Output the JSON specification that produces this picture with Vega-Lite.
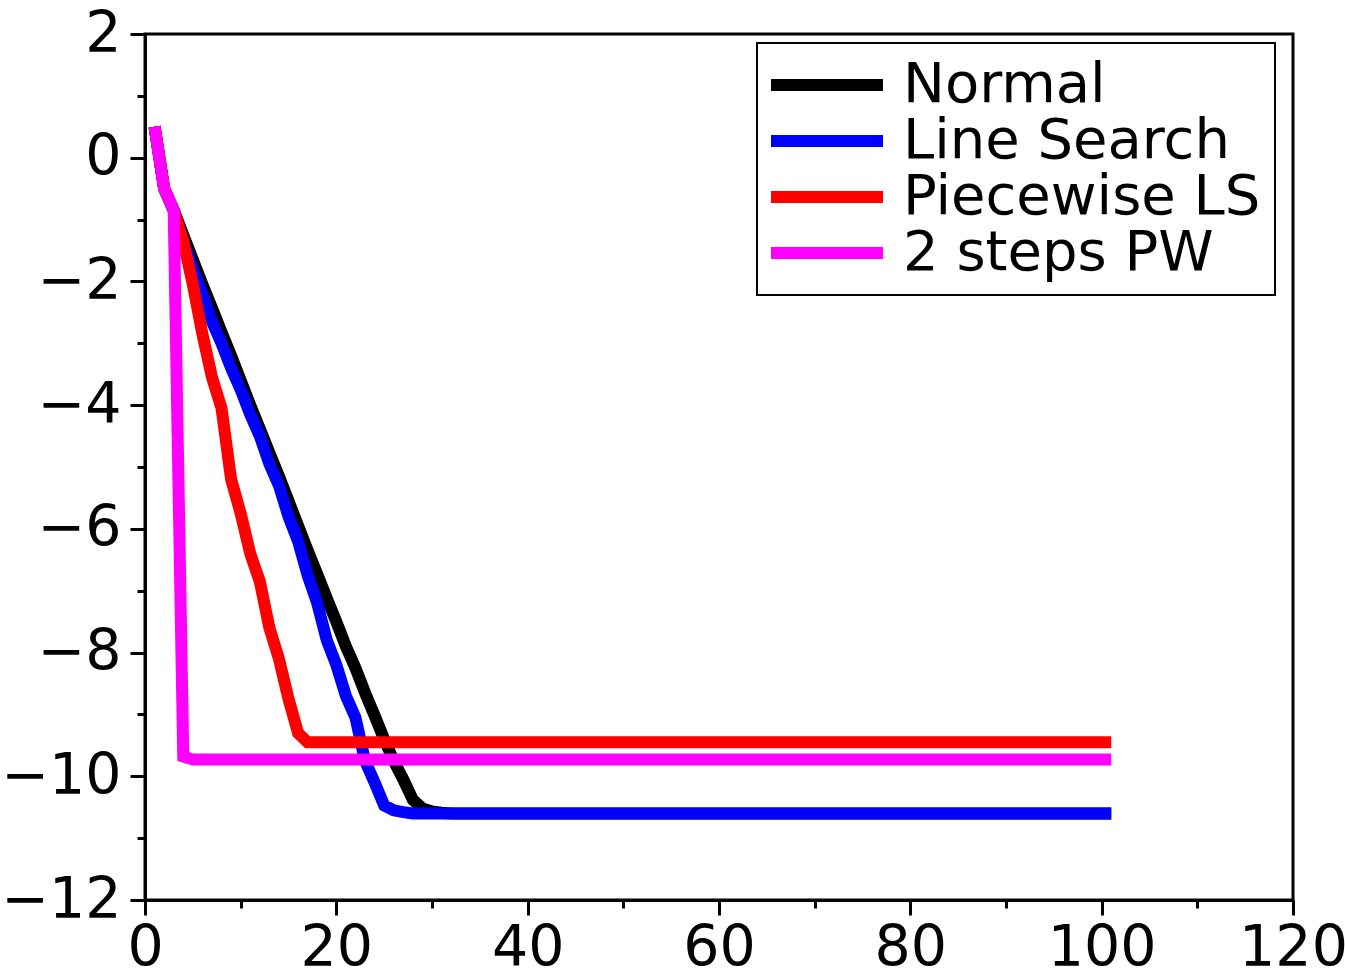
{
  "$schema": "https://vega.github.io/schema/vega-lite/v6.json",
  "width": 1148,
  "height": 866,
  "autosize": {"type": "none"},
  "padding": {"left": 145, "top": 34, "right": 52, "bottom": 73},
  "background": "white",
  "config": {
    "view": {"stroke": "black", "strokeWidth": 3},
    "font": "DejaVu Sans",
    "legend": {"strokeWidth": 2}
  },
  "data": {"values": [
    {"s":"Normal","x":1,"y":0.5},{"s":"Normal","x":2,"y":-0.5},{"s":"Normal","x":3,"y":-0.85},{"s":"Normal","x":4,"y":-1.25},{"s":"Normal","x":5,"y":-1.65},{"s":"Normal","x":6,"y":-2.05},{"s":"Normal","x":7,"y":-2.43},{"s":"Normal","x":8,"y":-2.82},{"s":"Normal","x":9,"y":-3.2},{"s":"Normal","x":10,"y":-3.6},
    {"s":"Normal","x":11,"y":-4.0},{"s":"Normal","x":12,"y":-4.38},{"s":"Normal","x":13,"y":-4.77},{"s":"Normal","x":14,"y":-5.15},{"s":"Normal","x":15,"y":-5.55},{"s":"Normal","x":16,"y":-5.95},{"s":"Normal","x":17,"y":-6.35},{"s":"Normal","x":18,"y":-6.73},{"s":"Normal","x":19,"y":-7.12},{"s":"Normal","x":20,"y":-7.5},
    {"s":"Normal","x":21,"y":-7.9},{"s":"Normal","x":22,"y":-8.25},{"s":"Normal","x":23,"y":-8.65},{"s":"Normal","x":24,"y":-9.02},{"s":"Normal","x":25,"y":-9.4},{"s":"Normal","x":26,"y":-9.75},{"s":"Normal","x":27,"y":-10.05},{"s":"Normal","x":28,"y":-10.38},{"s":"Normal","x":29,"y":-10.52},{"s":"Normal","x":30,"y":-10.57},
    {"s":"Normal","x":31,"y":-10.59},{"s":"Normal","x":32,"y":-10.6},{"s":"Normal","x":33,"y":-10.6},{"s":"Normal","x":34,"y":-10.6},{"s":"Normal","x":35,"y":-10.6},{"s":"Normal","x":36,"y":-10.6},{"s":"Normal","x":37,"y":-10.6},{"s":"Normal","x":38,"y":-10.6},{"s":"Normal","x":39,"y":-10.6},{"s":"Normal","x":40,"y":-10.6},
    {"s":"Normal","x":41,"y":-10.6},{"s":"Normal","x":42,"y":-10.6},{"s":"Normal","x":43,"y":-10.6},{"s":"Normal","x":44,"y":-10.6},{"s":"Normal","x":45,"y":-10.6},{"s":"Normal","x":46,"y":-10.6},{"s":"Normal","x":47,"y":-10.6},{"s":"Normal","x":48,"y":-10.6},{"s":"Normal","x":49,"y":-10.6},{"s":"Normal","x":50,"y":-10.6},
    {"s":"Normal","x":51,"y":-10.6},{"s":"Normal","x":52,"y":-10.6},{"s":"Normal","x":53,"y":-10.6},{"s":"Normal","x":54,"y":-10.6},{"s":"Normal","x":55,"y":-10.6},{"s":"Normal","x":56,"y":-10.6},{"s":"Normal","x":57,"y":-10.6},{"s":"Normal","x":58,"y":-10.6},{"s":"Normal","x":59,"y":-10.6},{"s":"Normal","x":60,"y":-10.6},
    {"s":"Normal","x":61,"y":-10.6},{"s":"Normal","x":62,"y":-10.6},{"s":"Normal","x":63,"y":-10.6},{"s":"Normal","x":64,"y":-10.6},{"s":"Normal","x":65,"y":-10.6},{"s":"Normal","x":66,"y":-10.6},{"s":"Normal","x":67,"y":-10.6},{"s":"Normal","x":68,"y":-10.6},{"s":"Normal","x":69,"y":-10.6},{"s":"Normal","x":70,"y":-10.6},
    {"s":"Normal","x":71,"y":-10.6},{"s":"Normal","x":72,"y":-10.6},{"s":"Normal","x":73,"y":-10.6},{"s":"Normal","x":74,"y":-10.6},{"s":"Normal","x":75,"y":-10.6},{"s":"Normal","x":76,"y":-10.6},{"s":"Normal","x":77,"y":-10.6},{"s":"Normal","x":78,"y":-10.6},{"s":"Normal","x":79,"y":-10.6},{"s":"Normal","x":80,"y":-10.6},
    {"s":"Normal","x":81,"y":-10.6},{"s":"Normal","x":82,"y":-10.6},{"s":"Normal","x":83,"y":-10.6},{"s":"Normal","x":84,"y":-10.6},{"s":"Normal","x":85,"y":-10.6},{"s":"Normal","x":86,"y":-10.6},{"s":"Normal","x":87,"y":-10.6},{"s":"Normal","x":88,"y":-10.6},{"s":"Normal","x":89,"y":-10.6},{"s":"Normal","x":90,"y":-10.6},
    {"s":"Normal","x":91,"y":-10.6},{"s":"Normal","x":92,"y":-10.6},{"s":"Normal","x":93,"y":-10.6},{"s":"Normal","x":94,"y":-10.6},{"s":"Normal","x":95,"y":-10.6},{"s":"Normal","x":96,"y":-10.6},{"s":"Normal","x":97,"y":-10.6},{"s":"Normal","x":98,"y":-10.6},{"s":"Normal","x":99,"y":-10.6},{"s":"Normal","x":100,"y":-10.6},{"s":"Normal","x":101,"y":-10.6},

    {"s":"Line Search","x":1,"y":0.5},{"s":"Line Search","x":2,"y":-0.5},{"s":"Line Search","x":3,"y":-0.85},{"s":"Line Search","x":4,"y":-1.35},{"s":"Line Search","x":5,"y":-1.8},{"s":"Line Search","x":6,"y":-2.2},{"s":"Line Search","x":7,"y":-2.65},{"s":"Line Search","x":8,"y":-3.0},{"s":"Line Search","x":9,"y":-3.4},{"s":"Line Search","x":10,"y":-3.75},
    {"s":"Line Search","x":11,"y":-4.15},{"s":"Line Search","x":12,"y":-4.5},{"s":"Line Search","x":13,"y":-4.95},{"s":"Line Search","x":14,"y":-5.3},{"s":"Line Search","x":15,"y":-5.8},{"s":"Line Search","x":16,"y":-6.2},{"s":"Line Search","x":17,"y":-6.75},{"s":"Line Search","x":18,"y":-7.2},{"s":"Line Search","x":19,"y":-7.8},{"s":"Line Search","x":20,"y":-8.2},
    {"s":"Line Search","x":21,"y":-8.7},{"s":"Line Search","x":22,"y":-9.05},{"s":"Line Search","x":23,"y":-9.75},{"s":"Line Search","x":24,"y":-10.1},{"s":"Line Search","x":25,"y":-10.47},{"s":"Line Search","x":26,"y":-10.55},{"s":"Line Search","x":27,"y":-10.58},{"s":"Line Search","x":28,"y":-10.6},{"s":"Line Search","x":29,"y":-10.6},{"s":"Line Search","x":30,"y":-10.6},
    {"s":"Line Search","x":31,"y":-10.6},{"s":"Line Search","x":32,"y":-10.6},{"s":"Line Search","x":33,"y":-10.6},{"s":"Line Search","x":34,"y":-10.6},{"s":"Line Search","x":35,"y":-10.6},{"s":"Line Search","x":36,"y":-10.6},{"s":"Line Search","x":37,"y":-10.6},{"s":"Line Search","x":38,"y":-10.6},{"s":"Line Search","x":39,"y":-10.6},{"s":"Line Search","x":40,"y":-10.6},
    {"s":"Line Search","x":41,"y":-10.6},{"s":"Line Search","x":42,"y":-10.6},{"s":"Line Search","x":43,"y":-10.6},{"s":"Line Search","x":44,"y":-10.6},{"s":"Line Search","x":45,"y":-10.6},{"s":"Line Search","x":46,"y":-10.6},{"s":"Line Search","x":47,"y":-10.6},{"s":"Line Search","x":48,"y":-10.6},{"s":"Line Search","x":49,"y":-10.6},{"s":"Line Search","x":50,"y":-10.6},
    {"s":"Line Search","x":51,"y":-10.6},{"s":"Line Search","x":52,"y":-10.6},{"s":"Line Search","x":53,"y":-10.6},{"s":"Line Search","x":54,"y":-10.6},{"s":"Line Search","x":55,"y":-10.6},{"s":"Line Search","x":56,"y":-10.6},{"s":"Line Search","x":57,"y":-10.6},{"s":"Line Search","x":58,"y":-10.6},{"s":"Line Search","x":59,"y":-10.6},{"s":"Line Search","x":60,"y":-10.6},
    {"s":"Line Search","x":61,"y":-10.6},{"s":"Line Search","x":62,"y":-10.6},{"s":"Line Search","x":63,"y":-10.6},{"s":"Line Search","x":64,"y":-10.6},{"s":"Line Search","x":65,"y":-10.6},{"s":"Line Search","x":66,"y":-10.6},{"s":"Line Search","x":67,"y":-10.6},{"s":"Line Search","x":68,"y":-10.6},{"s":"Line Search","x":69,"y":-10.6},{"s":"Line Search","x":70,"y":-10.6},
    {"s":"Line Search","x":71,"y":-10.6},{"s":"Line Search","x":72,"y":-10.6},{"s":"Line Search","x":73,"y":-10.6},{"s":"Line Search","x":74,"y":-10.6},{"s":"Line Search","x":75,"y":-10.6},{"s":"Line Search","x":76,"y":-10.6},{"s":"Line Search","x":77,"y":-10.6},{"s":"Line Search","x":78,"y":-10.6},{"s":"Line Search","x":79,"y":-10.6},{"s":"Line Search","x":80,"y":-10.6},
    {"s":"Line Search","x":81,"y":-10.6},{"s":"Line Search","x":82,"y":-10.6},{"s":"Line Search","x":83,"y":-10.6},{"s":"Line Search","x":84,"y":-10.6},{"s":"Line Search","x":85,"y":-10.6},{"s":"Line Search","x":86,"y":-10.6},{"s":"Line Search","x":87,"y":-10.6},{"s":"Line Search","x":88,"y":-10.6},{"s":"Line Search","x":89,"y":-10.6},{"s":"Line Search","x":90,"y":-10.6},
    {"s":"Line Search","x":91,"y":-10.6},{"s":"Line Search","x":92,"y":-10.6},{"s":"Line Search","x":93,"y":-10.6},{"s":"Line Search","x":94,"y":-10.6},{"s":"Line Search","x":95,"y":-10.6},{"s":"Line Search","x":96,"y":-10.6},{"s":"Line Search","x":97,"y":-10.6},{"s":"Line Search","x":98,"y":-10.6},{"s":"Line Search","x":99,"y":-10.6},{"s":"Line Search","x":100,"y":-10.6},{"s":"Line Search","x":101,"y":-10.6},

    {"s":"Piecewise LS","x":1,"y":0.5},{"s":"Piecewise LS","x":2,"y":-0.5},{"s":"Piecewise LS","x":3,"y":-0.85},{"s":"Piecewise LS","x":4,"y":-1.35},{"s":"Piecewise LS","x":5,"y":-2.05},{"s":"Piecewise LS","x":6,"y":-2.85},{"s":"Piecewise LS","x":7,"y":-3.55},{"s":"Piecewise LS","x":8,"y":-4.05},{"s":"Piecewise LS","x":9,"y":-5.2},{"s":"Piecewise LS","x":10,"y":-5.75},
    {"s":"Piecewise LS","x":11,"y":-6.4},{"s":"Piecewise LS","x":12,"y":-6.85},{"s":"Piecewise LS","x":13,"y":-7.6},{"s":"Piecewise LS","x":14,"y":-8.1},{"s":"Piecewise LS","x":15,"y":-8.75},{"s":"Piecewise LS","x":16,"y":-9.3},{"s":"Piecewise LS","x":17,"y":-9.45},{"s":"Piecewise LS","x":18,"y":-9.45},{"s":"Piecewise LS","x":19,"y":-9.45},{"s":"Piecewise LS","x":20,"y":-9.45},
    {"s":"Piecewise LS","x":21,"y":-9.45},{"s":"Piecewise LS","x":22,"y":-9.45},{"s":"Piecewise LS","x":23,"y":-9.45},{"s":"Piecewise LS","x":24,"y":-9.45},{"s":"Piecewise LS","x":25,"y":-9.45},{"s":"Piecewise LS","x":26,"y":-9.45},{"s":"Piecewise LS","x":27,"y":-9.45},{"s":"Piecewise LS","x":28,"y":-9.45},{"s":"Piecewise LS","x":29,"y":-9.45},{"s":"Piecewise LS","x":30,"y":-9.45},
    {"s":"Piecewise LS","x":31,"y":-9.45},{"s":"Piecewise LS","x":32,"y":-9.45},{"s":"Piecewise LS","x":33,"y":-9.45},{"s":"Piecewise LS","x":34,"y":-9.45},{"s":"Piecewise LS","x":35,"y":-9.45},{"s":"Piecewise LS","x":36,"y":-9.45},{"s":"Piecewise LS","x":37,"y":-9.45},{"s":"Piecewise LS","x":38,"y":-9.45},{"s":"Piecewise LS","x":39,"y":-9.45},{"s":"Piecewise LS","x":40,"y":-9.45},
    {"s":"Piecewise LS","x":41,"y":-9.45},{"s":"Piecewise LS","x":42,"y":-9.45},{"s":"Piecewise LS","x":43,"y":-9.45},{"s":"Piecewise LS","x":44,"y":-9.45},{"s":"Piecewise LS","x":45,"y":-9.45},{"s":"Piecewise LS","x":46,"y":-9.45},{"s":"Piecewise LS","x":47,"y":-9.45},{"s":"Piecewise LS","x":48,"y":-9.45},{"s":"Piecewise LS","x":49,"y":-9.45},{"s":"Piecewise LS","x":50,"y":-9.45},
    {"s":"Piecewise LS","x":51,"y":-9.45},{"s":"Piecewise LS","x":52,"y":-9.45},{"s":"Piecewise LS","x":53,"y":-9.45},{"s":"Piecewise LS","x":54,"y":-9.45},{"s":"Piecewise LS","x":55,"y":-9.45},{"s":"Piecewise LS","x":56,"y":-9.45},{"s":"Piecewise LS","x":57,"y":-9.45},{"s":"Piecewise LS","x":58,"y":-9.45},{"s":"Piecewise LS","x":59,"y":-9.45},{"s":"Piecewise LS","x":60,"y":-9.45},
    {"s":"Piecewise LS","x":61,"y":-9.45},{"s":"Piecewise LS","x":62,"y":-9.45},{"s":"Piecewise LS","x":63,"y":-9.45},{"s":"Piecewise LS","x":64,"y":-9.45},{"s":"Piecewise LS","x":65,"y":-9.45},{"s":"Piecewise LS","x":66,"y":-9.45},{"s":"Piecewise LS","x":67,"y":-9.45},{"s":"Piecewise LS","x":68,"y":-9.45},{"s":"Piecewise LS","x":69,"y":-9.45},{"s":"Piecewise LS","x":70,"y":-9.45},
    {"s":"Piecewise LS","x":71,"y":-9.45},{"s":"Piecewise LS","x":72,"y":-9.45},{"s":"Piecewise LS","x":73,"y":-9.45},{"s":"Piecewise LS","x":74,"y":-9.45},{"s":"Piecewise LS","x":75,"y":-9.45},{"s":"Piecewise LS","x":76,"y":-9.45},{"s":"Piecewise LS","x":77,"y":-9.45},{"s":"Piecewise LS","x":78,"y":-9.45},{"s":"Piecewise LS","x":79,"y":-9.45},{"s":"Piecewise LS","x":80,"y":-9.45},
    {"s":"Piecewise LS","x":81,"y":-9.45},{"s":"Piecewise LS","x":82,"y":-9.45},{"s":"Piecewise LS","x":83,"y":-9.45},{"s":"Piecewise LS","x":84,"y":-9.45},{"s":"Piecewise LS","x":85,"y":-9.45},{"s":"Piecewise LS","x":86,"y":-9.45},{"s":"Piecewise LS","x":87,"y":-9.45},{"s":"Piecewise LS","x":88,"y":-9.45},{"s":"Piecewise LS","x":89,"y":-9.45},{"s":"Piecewise LS","x":90,"y":-9.45},
    {"s":"Piecewise LS","x":91,"y":-9.45},{"s":"Piecewise LS","x":92,"y":-9.45},{"s":"Piecewise LS","x":93,"y":-9.45},{"s":"Piecewise LS","x":94,"y":-9.45},{"s":"Piecewise LS","x":95,"y":-9.45},{"s":"Piecewise LS","x":96,"y":-9.45},{"s":"Piecewise LS","x":97,"y":-9.45},{"s":"Piecewise LS","x":98,"y":-9.45},{"s":"Piecewise LS","x":99,"y":-9.45},{"s":"Piecewise LS","x":100,"y":-9.45},{"s":"Piecewise LS","x":101,"y":-9.45},

    {"s":"2 steps PW","x":1,"y":0.5},{"s":"2 steps PW","x":2,"y":-0.5},{"s":"2 steps PW","x":3,"y":-0.85},{"s":"2 steps PW","x":4,"y":-9.68},{"s":"2 steps PW","x":5,"y":-9.73},{"s":"2 steps PW","x":6,"y":-9.73},{"s":"2 steps PW","x":7,"y":-9.73},{"s":"2 steps PW","x":8,"y":-9.73},{"s":"2 steps PW","x":9,"y":-9.73},{"s":"2 steps PW","x":10,"y":-9.73},
    {"s":"2 steps PW","x":11,"y":-9.73},{"s":"2 steps PW","x":12,"y":-9.73},{"s":"2 steps PW","x":13,"y":-9.73},{"s":"2 steps PW","x":14,"y":-9.73},{"s":"2 steps PW","x":15,"y":-9.73},{"s":"2 steps PW","x":16,"y":-9.73},{"s":"2 steps PW","x":17,"y":-9.73},{"s":"2 steps PW","x":18,"y":-9.73},{"s":"2 steps PW","x":19,"y":-9.73},{"s":"2 steps PW","x":20,"y":-9.73},
    {"s":"2 steps PW","x":21,"y":-9.73},{"s":"2 steps PW","x":22,"y":-9.73},{"s":"2 steps PW","x":23,"y":-9.73},{"s":"2 steps PW","x":24,"y":-9.73},{"s":"2 steps PW","x":25,"y":-9.73},{"s":"2 steps PW","x":26,"y":-9.73},{"s":"2 steps PW","x":27,"y":-9.73},{"s":"2 steps PW","x":28,"y":-9.73},{"s":"2 steps PW","x":29,"y":-9.73},{"s":"2 steps PW","x":30,"y":-9.73},
    {"s":"2 steps PW","x":31,"y":-9.73},{"s":"2 steps PW","x":32,"y":-9.73},{"s":"2 steps PW","x":33,"y":-9.73},{"s":"2 steps PW","x":34,"y":-9.73},{"s":"2 steps PW","x":35,"y":-9.73},{"s":"2 steps PW","x":36,"y":-9.73},{"s":"2 steps PW","x":37,"y":-9.73},{"s":"2 steps PW","x":38,"y":-9.73},{"s":"2 steps PW","x":39,"y":-9.73},{"s":"2 steps PW","x":40,"y":-9.73},
    {"s":"2 steps PW","x":41,"y":-9.73},{"s":"2 steps PW","x":42,"y":-9.73},{"s":"2 steps PW","x":43,"y":-9.73},{"s":"2 steps PW","x":44,"y":-9.73},{"s":"2 steps PW","x":45,"y":-9.73},{"s":"2 steps PW","x":46,"y":-9.73},{"s":"2 steps PW","x":47,"y":-9.73},{"s":"2 steps PW","x":48,"y":-9.73},{"s":"2 steps PW","x":49,"y":-9.73},{"s":"2 steps PW","x":50,"y":-9.73},
    {"s":"2 steps PW","x":51,"y":-9.73},{"s":"2 steps PW","x":52,"y":-9.73},{"s":"2 steps PW","x":53,"y":-9.73},{"s":"2 steps PW","x":54,"y":-9.73},{"s":"2 steps PW","x":55,"y":-9.73},{"s":"2 steps PW","x":56,"y":-9.73},{"s":"2 steps PW","x":57,"y":-9.73},{"s":"2 steps PW","x":58,"y":-9.73},{"s":"2 steps PW","x":59,"y":-9.73},{"s":"2 steps PW","x":60,"y":-9.73},
    {"s":"2 steps PW","x":61,"y":-9.73},{"s":"2 steps PW","x":62,"y":-9.73},{"s":"2 steps PW","x":63,"y":-9.73},{"s":"2 steps PW","x":64,"y":-9.73},{"s":"2 steps PW","x":65,"y":-9.73},{"s":"2 steps PW","x":66,"y":-9.73},{"s":"2 steps PW","x":67,"y":-9.73},{"s":"2 steps PW","x":68,"y":-9.73},{"s":"2 steps PW","x":69,"y":-9.73},{"s":"2 steps PW","x":70,"y":-9.73},
    {"s":"2 steps PW","x":71,"y":-9.73},{"s":"2 steps PW","x":72,"y":-9.73},{"s":"2 steps PW","x":73,"y":-9.73},{"s":"2 steps PW","x":74,"y":-9.73},{"s":"2 steps PW","x":75,"y":-9.73},{"s":"2 steps PW","x":76,"y":-9.73},{"s":"2 steps PW","x":77,"y":-9.73},{"s":"2 steps PW","x":78,"y":-9.73},{"s":"2 steps PW","x":79,"y":-9.73},{"s":"2 steps PW","x":80,"y":-9.73},
    {"s":"2 steps PW","x":81,"y":-9.73},{"s":"2 steps PW","x":82,"y":-9.73},{"s":"2 steps PW","x":83,"y":-9.73},{"s":"2 steps PW","x":84,"y":-9.73},{"s":"2 steps PW","x":85,"y":-9.73},{"s":"2 steps PW","x":86,"y":-9.73},{"s":"2 steps PW","x":87,"y":-9.73},{"s":"2 steps PW","x":88,"y":-9.73},{"s":"2 steps PW","x":89,"y":-9.73},{"s":"2 steps PW","x":90,"y":-9.73},
    {"s":"2 steps PW","x":91,"y":-9.73},{"s":"2 steps PW","x":92,"y":-9.73},{"s":"2 steps PW","x":93,"y":-9.73},{"s":"2 steps PW","x":94,"y":-9.73},{"s":"2 steps PW","x":95,"y":-9.73},{"s":"2 steps PW","x":96,"y":-9.73},{"s":"2 steps PW","x":97,"y":-9.73},{"s":"2 steps PW","x":98,"y":-9.73},{"s":"2 steps PW","x":99,"y":-9.73},{"s":"2 steps PW","x":100,"y":-9.73},{"s":"2 steps PW","x":101,"y":-9.73}
  ]},
  "mark": {"type": "line", "strokeWidth": 12, "strokeJoin": "miter", "strokeCap": "butt"},
  "encoding": {
    "x": {
      "field": "x", "type": "quantitative",
      "scale": {"domain": [0, 120], "nice": false, "zero": false},
      "axis": {
        "title": null, "grid": false,
        "values": [0, 10, 20, 30, 40, 50, 60, 70, 80, 90, 100, 110, 120],
        "labelExpr": "datum.value % 20 === 0 ? datum.label : ''",
        "tickSize": {"condition": {"test": "datum.value % 20 === 0", "value": 15}, "value": 8},
        "tickWidth": 3, "tickColor": "black",
        "domainColor": "black", "domainWidth": 3,
        "labelFont": "DejaVu Sans", "labelFontSize": 57, "labelColor": "black",
        "labelPadding": 5, "labelFlush": false, "labelOverlap": false, "labelBound": false
      }
    },
    "y": {
      "field": "y", "type": "quantitative",
      "scale": {"domain": [-12, 2], "nice": false, "zero": false},
      "axis": {
        "title": null, "grid": false,
        "values": [-12, -11, -10, -9, -8, -7, -6, -5, -4, -3, -2, -1, 0, 1, 2],
        "labelExpr": "datum.value % 2 === 0 ? datum.label : ''",
        "tickSize": {"condition": {"test": "datum.value % 2 === 0", "value": 15}, "value": 8},
        "tickWidth": 3, "tickColor": "black",
        "domainColor": "black", "domainWidth": 3,
        "labelFont": "DejaVu Sans", "labelFontSize": 57, "labelColor": "black",
        "labelPadding": 9, "labelFlush": false, "labelOverlap": false, "labelBound": false
      }
    },
    "color": {
      "field": "s", "type": "nominal",
      "scale": {
        "domain": ["Normal", "Line Search", "Piecewise LS", "2 steps PW"],
        "range": ["#000000", "#0000ff", "#ff0000", "#ff00ff"]
      },
      "legend": {
        "orient": "none", "legendX": 612, "legendY": 9,
        "title": null,
        "strokeColor": "black", "fillColor": "white",
        "padding": 14,
        "symbolType": "M-4,0H4", "symbolSize": 784, "symbolStrokeWidth": 12,
        "symbolOffset": 28, "labelOffset": 48,
        "labelFont": "DejaVu Sans", "labelFontSize": 56, "labelColor": "black",
        "labelLimit": 1000, "rowPadding": 0
      }
    }
  }
}
